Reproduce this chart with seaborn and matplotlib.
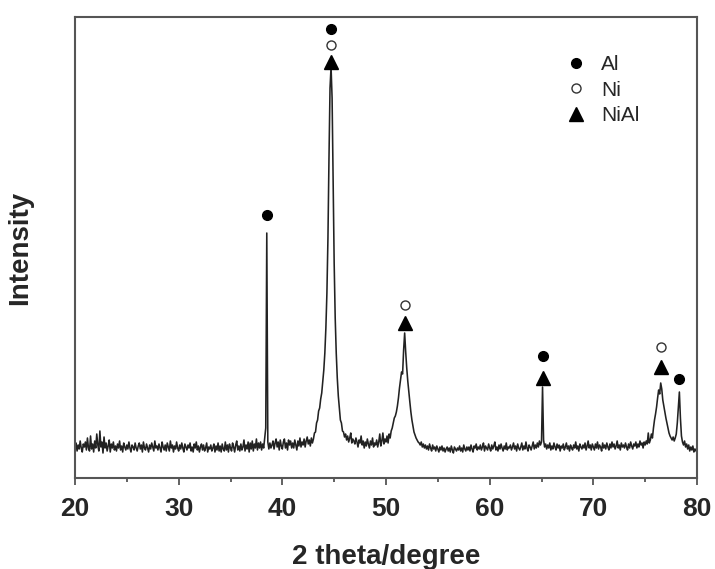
import numpy as np
import seaborn as sns
import matplotlib
matplotlib.use("Agg")
import matplotlib.pyplot as plt
from matplotlib.ticker import MultipleLocator

# XRD scan, 20-80 deg at 0.1 deg steps
two_theta = np.round(np.arange(20.0, 80.05, 0.1), 1)
intensity = [
    31, 35, 27, 33, 29, 37, 30, 26, 34, 31,   # 20
    36, 28, 40, 30, 27, 42, 29, 34, 26, 37,   # 21
    30, 44, 33, 27, 47, 31, 36, 25, 41, 30,   # 22
    35, 27, 32, 38, 26, 34, 30, 36, 28, 32,   # 23
    27, 34, 30, 37, 28, 32, 26, 35, 31, 28,   # 24
    33, 29, 36, 30, 26, 33, 31, 28, 35, 30,   # 25
    27, 32, 35, 29, 33, 26, 36, 30, 28, 34,   # 26
    30, 26, 33, 29, 35, 31, 27, 37, 30, 32,   # 27
    28, 34, 30, 26, 36, 31, 28, 33, 27, 35,   # 28
    31, 27, 37, 30, 33, 26, 32, 29, 36, 30,   # 29
    27, 33, 29, 35, 30, 26, 34, 31, 28, 33,   # 30
    30, 35, 27, 31, 26, 34, 30, 36, 28, 32,   # 31
    26, 31, 34, 28, 33, 27, 30, 35, 26, 31,   # 32
    29, 33, 27, 30, 34, 26, 32, 28, 35, 27,   # 33
    32, 26, 34, 29, 27, 36, 28, 33, 26, 34,   # 34
    30, 27, 35, 31, 26, 33, 37, 28, 32, 27,   # 35
    34, 28, 31, 38, 27, 33, 29, 36, 26, 35,   # 36
    29, 37, 27, 34, 30, 39, 28, 35, 30, 36,   # 37
    28, 34, 30, 40, 50, 245, 36, 29, 35, 30,  # 38
    33, 37, 29, 35, 39, 31, 36, 28, 38, 32,   # 39
    29, 36, 39, 30, 35, 28, 38, 33, 37, 30,   # 40
    35, 30, 38, 33, 28, 37, 32, 40, 31, 36,   # 41
    33, 39, 31, 37, 41, 34, 38, 32, 40, 35,   # 42
    39, 45, 46, 55, 58, 67, 70, 79, 85, 97,   # 43
    108, 125, 150, 185, 240, 320, 390, 411, 380, 300,  # 44
    215, 160, 125, 100, 82, 70, 58, 55, 47, 46,   # 45
    41, 44, 38, 42, 36, 40, 45, 35, 39, 37,   # 46
    34, 40, 36, 31, 38, 35, 42, 33, 37, 30,   # 47
    36, 32, 39, 34, 30, 37, 33, 40, 31, 35,   # 48
    33, 38, 31, 36, 44, 32, 37, 45, 34, 39,   # 49
    36, 42, 35, 44, 40, 47, 50, 55, 60, 62,   # 50
    66, 72, 80, 90, 98, 106, 104, 128, 145, 126,  # 51
    110, 97, 86, 76, 66, 58, 52, 46, 43, 40,  # 52
    38, 36, 35, 33, 36, 31, 34, 30, 33, 29,   # 53
    32, 28, 34, 30, 27, 33, 29, 31, 27, 32,   # 54
    29, 26, 31, 28, 32, 27, 30, 26, 29, 31,   # 55
    27, 30, 26, 32, 28, 25, 31, 29, 27, 30,   # 56
    28, 32, 27, 30, 26, 33, 29, 27, 31, 28,   # 57
    31, 27, 33, 29, 26, 32, 30, 34, 28, 31,   # 58
    29, 33, 28, 31, 35, 27, 32, 30, 28, 34,   # 59
    30, 27, 33, 29, 32, 36, 28, 31, 27, 33,   # 60
    29, 34, 30, 27, 32, 29, 35, 28, 31, 30,   # 61
    33, 28, 31, 35, 29, 32, 27, 34, 30, 28,   # 62
    31, 35, 28, 32, 29, 36, 30, 27, 33, 31,   # 63
    28, 32, 36, 29, 33, 30, 35, 31, 37, 33,   # 64
    36, 91, 38, 31, 34, 29, 33, 30, 35, 28,   # 65
    32, 29, 35, 31, 28, 34, 30, 33, 27, 32,   # 66
    30, 34, 28, 31, 35, 29, 32, 27, 33, 30,   # 67
    28, 33, 30, 36, 29, 32, 27, 34, 31, 29,   # 68
    33, 30, 35, 28, 32, 37, 30, 33, 28, 34,   # 69
    31, 28, 34, 30, 36, 29, 33, 31, 27, 35,   # 70
    30, 33, 29, 35, 31, 28, 34, 30, 36, 31,   # 71
    34, 29, 32, 37, 30, 33, 28, 35, 31, 33,   # 72
    30, 35, 31, 28, 34, 30, 36, 32, 29, 34,   # 73
    32, 36, 30, 34, 31, 37, 33, 35, 30, 36,   # 74
    33, 37, 34, 45, 35, 38, 44, 40, 50, 58,   # 75
    64, 71, 80, 88, 84, 95, 89, 78, 72, 66,   # 76
    60, 55, 50, 45, 42, 40, 38, 41, 37, 40,   # 77
    44, 55, 70, 86, 60, 42, 36, 33, 37, 31,   # 78
    34, 29, 33, 27, 31, 28, 32, 26, 29, 27,   # 79
    30,                                        # 80
]
assert len(intensity) == len(two_theta)

# phase markers above the peaks
al_x = [38.5, 44.7, 65.1, 78.3]
al_y = [263, 449, 122, 99]
ni_x = [44.7, 51.8, 76.5]
ni_y = [433, 173, 131]
nial_x = [44.7, 51.8, 65.1, 76.5]
nial_y = [416, 155, 100, 111]

sns.set_theme(style="ticks")
plt.rcParams['font.family'] = ['Liberation Sans', 'DejaVu Sans']

fig = plt.figure(figsize=(7.15, 5.69), dpi=100)
ax = fig.add_axes([75 / 715, 1 - 478 / 569, 622 / 715, 461 / 569])

sns.lineplot(x=two_theta, y=intensity, ax=ax, color='#222222',
             linewidth=1.15, estimator=None)

ax.plot(al_x, al_y, ls='none', marker='o', ms=7, color='black', label='Al')
ax.plot(ni_x, ni_y, ls='none', marker='o', ms=6.5, mfc='white', mec='#333333',
        mew=1.0, label='Ni')
ax.plot(nial_x, nial_y, ls='none', marker='^', ms=9.5, color='black', label='NiAl')

ax.set_xlim(20, 80)
ax.set_ylim(0, 461)
ax.xaxis.set_major_locator(MultipleLocator(10))
ax.xaxis.set_minor_locator(MultipleLocator(5))
ax.set_yticks([])
ax.tick_params(axis='x', which='major', direction='out', length=5, width=1.3,
               color='#555555', pad=9, labelsize=19)
ax.tick_params(axis='x', which='minor', direction='out', length=3, width=1.3,
               color='#555555')
for lab in ax.get_xticklabels():
    lab.set_fontweight('bold')

for sp in ax.spines.values():
    sp.set_color('#555555')
    sp.set_linewidth(1.5)

ax.set_xlabel('2 theta/degree', fontsize=20, fontweight='bold', labelpad=16)
ax.set_ylabel('Intensity', fontsize=20, fontweight='bold', labelpad=30)

ax.legend(loc='upper left', bbox_to_anchor=(0.772, 0.94), frameon=False,
          fontsize=15, handlelength=1.0, handletextpad=0.7, labelspacing=0.32,
          borderpad=0.0)

fig.savefig('out.png', dpi=100)
